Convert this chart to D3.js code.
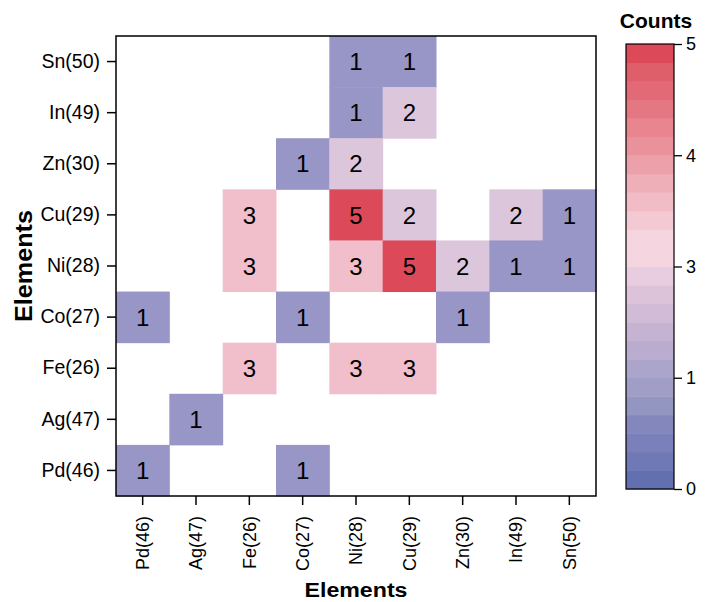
<!DOCTYPE html>
<html>
<head>
<meta charset="utf-8">
<script src="https://cdn.jsdelivr.net/npm/d3@7"></script>
<style>
  body { margin: 0; background: #fff; }
  svg { font-family: "Liberation Sans", Arial, sans-serif; }
</style>
</head>
<body>
<svg id="chart" width="706" height="602"></svg>
<script>
// categories
var xCats = ["Pd(46)", "Ag(47)", "Fe(26)", "Co(27)", "Ni(28)", "Cu(29)", "Zn(30)", "In(49)", "Sn(50)"];
var yCats = ["Pd(46)", "Ag(47)", "Fe(26)", "Co(27)", "Ni(28)", "Cu(29)", "Zn(30)", "In(49)", "Sn(50)"];

// non-empty cells: x category, y category, count
var cellX = ["Ni(28)", "Cu(29)",
             "Ni(28)", "Cu(29)",
             "Co(27)", "Ni(28)",
             "Fe(26)", "Ni(28)", "Cu(29)", "In(49)", "Sn(50)",
             "Fe(26)", "Ni(28)", "Cu(29)", "Zn(30)", "In(49)", "Sn(50)",
             "Pd(46)", "Co(27)", "Zn(30)",
             "Fe(26)", "Ni(28)", "Cu(29)",
             "Ag(47)",
             "Pd(46)", "Co(27)"];
var cellY = ["Sn(50)", "Sn(50)",
             "In(49)", "In(49)",
             "Zn(30)", "Zn(30)",
             "Cu(29)", "Cu(29)", "Cu(29)", "Cu(29)", "Cu(29)",
             "Ni(28)", "Ni(28)", "Ni(28)", "Ni(28)", "Ni(28)", "Ni(28)",
             "Co(27)", "Co(27)", "Co(27)",
             "Fe(26)", "Fe(26)", "Fe(26)",
             "Ag(47)",
             "Pd(46)", "Pd(46)"];
var cellVal = [1, 1,
               1, 2,
               1, 2,
               3, 5, 2, 2, 1,
               3, 3, 5, 2, 1, 1,
               1, 1, 1,
               3, 3, 3,
               1,
               1, 1];

// colorbar tick labels
var barTicks = ["0", "1", "3", "4", "5"];

// palette
var cellColor = d3.scaleLinear().domain([1, 2, 3, 5])
  .range(["#9896c6", "#dcc6dc", "#f0bfcb", "#dc4a5a"]);
var barColors = ["#6270b2", "#6f79b5", "#7a80b9", "#8487bb", "#9496c2", "#a09dc7",
                 "#aca5cb", "#b9acce", "#c6b3d2", "#d1bbd6", "#dcc3da", "#e8cde0",
                 "#f5d6e0", "#f5d6e0", "#f3c9d3", "#f1bcc6", "#efafb8", "#eca0a9",
                 "#ea929c", "#e8858f", "#e57782", "#e26a77", "#de5e6a", "#dc4a5a"];

var svg = d3.select("#chart");
var plotL = 116, plotR = 596, plotT = 36, plotB = 496;

var x = d3.scaleBand().domain(xCats).range([plotL, plotR]);
var y = d3.scaleBand().domain(yCats).range([plotB, plotT]);

var cells = cellVal.map(function(v, i) { return {x: cellX[i], y: cellY[i], v: v}; });

svg.append("g").selectAll("rect")
  .data(cells).enter().append("rect")
  .attr("x", function(d) { return x(d.x); })
  .attr("y", function(d) { return y(d.y); })
  .attr("width", x.bandwidth() + 0.5)
  .attr("height", y.bandwidth() + 0.5)
  .attr("fill", function(d) { return cellColor(d.v); });

svg.append("g").selectAll("text")
  .data(cells).enter().append("text")
  .attr("x", function(d) { return x(d.x) + x.bandwidth() / 2; })
  .attr("y", function(d) { return y(d.y) + y.bandwidth() / 2; })
  .attr("dy", "0.36em")
  .attr("text-anchor", "middle")
  .style("font-size", "24px")
  .attr("fill", "#000")
  .text(function(d) { return d.v; });

// frame
svg.append("rect")
  .attr("x", plotL).attr("y", plotT)
  .attr("width", plotR - plotL).attr("height", plotB - plotT)
  .attr("fill", "none").attr("stroke", "#000").attr("stroke-width", 1.5);

var xAxis = svg.append("g")
  .attr("transform", "translate(0," + plotB + ")")
  .call(d3.axisBottom(x).tickSize(9));

var yAxis = svg.append("g")
  .attr("transform", "translate(" + plotL + ",0)")
  .call(d3.axisLeft(y).tickSize(9).tickPadding(7));

[xAxis, yAxis].forEach(function(a) {
  a.select(".domain").remove();
  a.selectAll("line").attr("stroke", "#000").attr("stroke-width", 1.5);
  a.selectAll("text").attr("fill", "#000")
    .style("font-size", "19.5px")
    .style("font-family", "'Liberation Sans', Arial, sans-serif");
});
xAxis.selectAll("text")
  .attr("transform", "rotate(-90)")
  .attr("text-anchor", "end")
  .attr("x", -20).attr("y", 0).attr("dy", "0.35em")
  .style("font-size", "18px");

svg.append("text")
  .attr("x", (plotL + plotR) / 2).attr("y", 597)
  .attr("text-anchor", "middle")
  .attr("textLength", 103).attr("lengthAdjust", "spacingAndGlyphs")
  .style("font-size", "20px").style("font-weight", "bold")
  .text("Elements");

svg.append("text")
  .attr("transform", "translate(32," + ((plotT + plotB) / 2) + ") rotate(-90)")
  .attr("text-anchor", "middle")
  .attr("textLength", 112).attr("lengthAdjust", "spacingAndGlyphs")
  .style("font-size", "24px").style("font-weight", "bold")
  .text("Elements");

// colorbar
var barL = 626, barR = 674, barT = 44, barB = 489;
var bandY = d3.scaleBand().domain(d3.range(barColors.length)).range([barB, barT]);
svg.append("g").selectAll("rect")
  .data(barColors).enter().append("rect")
  .attr("x", barL).attr("width", barR - barL)
  .attr("y", function(d, i) { return bandY(i); })
  .attr("height", bandY.bandwidth() + 0.5)
  .attr("fill", function(d) { return d; });
svg.append("rect")
  .attr("x", barL).attr("y", barT)
  .attr("width", barR - barL).attr("height", barB - barT)
  .attr("fill", "none").attr("stroke", "#000").attr("stroke-width", 1.2);

var barScale = d3.scalePoint().domain(barTicks).range([barB, barT]);
var barAxis = svg.append("g")
  .attr("transform", "translate(" + barR + ",0)")
  .call(d3.axisRight(barScale).tickSize(8).tickPadding(4));
barAxis.select(".domain").remove();
barAxis.selectAll("line").attr("stroke", "#000").attr("stroke-width", 1.3);
barAxis.selectAll("text").style("font-size", "18px").attr("fill", "#000")
  .style("font-family", "'Liberation Sans', Arial, sans-serif");

svg.append("text")
  .attr("x", 656).attr("y", 28)
  .attr("text-anchor", "middle")
  .style("font-size", "21px").style("font-weight", "bold")
  .text("Counts");
</script>
</body>
</html>
